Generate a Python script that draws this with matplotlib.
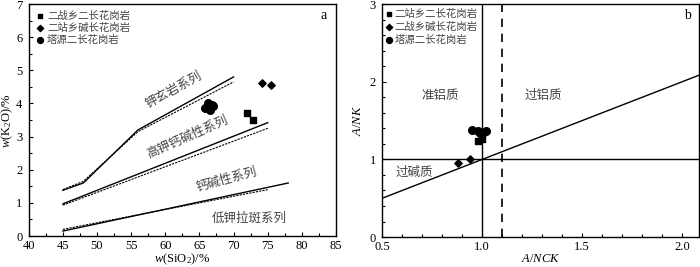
import matplotlib
matplotlib.use("Agg")
import matplotlib.pyplot as plt
from matplotlib.ticker import MultipleLocator

plt.rcParams['font.family'] = ['Liberation Serif', 'Noto Sans CJK SC', 'DejaVu Sans']
plt.rcParams['mathtext.fontset'] = 'custom'
plt.rcParams['mathtext.rm'] = 'Liberation Serif'
plt.rcParams['mathtext.it'] = 'Liberation Serif:italic'

# ---- Panel a data ----
shosh_solid_x = [45, 48, 56, 70]
shosh_solid_y = [1.38, 1.6, 3.2, 4.8]
shosh_dash_x = [45, 48, 56, 70]
shosh_dash_y = [1.4, 1.65, 3.15, 4.65]
highk_solid_x = [45, 75]
highk_solid_y = [0.97, 3.42]
highk_dash_x = [45, 75]
highk_dash_y = [0.93, 3.25]
calc_solid_x = [45, 78]
calc_solid_y = [0.15, 1.6]
calc_dash_x = [45, 75]
calc_dash_y = [0.2, 1.4]

a_sq_x = [72.0, 72.8]
a_sq_y = [3.7, 3.5]
a_dm_x = [74.2, 75.5]
a_dm_y = [4.62, 4.55]
a_ci_x = [65.8, 66.3, 66.6, 67.0, 66.8, 66.2]
a_ci_y = [3.86, 4.0, 3.8, 3.92, 3.95, 3.9]

a_legend = ['二战乡二长花岗岩', '二站乡碱长花岗岩', '塔源二长花岗岩']
a_series_labels = ['钾玄岩系列', '高钾钙碱性系列', '钙碱性系列', '低钾拉斑系列']

# ---- Panel b data ----
b_sq_x = [0.98, 1.0]
b_sq_y = [1.24, 1.26]
b_dm_x = [0.88, 0.94]
b_dm_y = [0.96, 1.0]
b_ci_x = [0.95, 0.98, 1.0, 1.02, 0.99]
b_ci_y = [1.38, 1.36, 1.33, 1.37, 1.34]
b_diag_x = [0.5, 2.1]
b_diag_y = [0.5, 2.1]

b_legend = ['二站乡二长花岗岩', '二战乡碱长花岗岩', '塔源二长花岗岩']
b_regions = ['准铝质', '过铝质', '过碱质']

fig = plt.figure(figsize=(7.0, 2.67), dpi=100)
axa = fig.add_axes([0.041, 0.116, 0.439, 0.869])
axb = fig.add_axes([0.546, 0.112, 0.453, 0.873])

cjk = ['Noto Sans CJK SC', 'DejaVu Sans']
lw = 1.0
tc = '#444444'

# Panel a
axa.plot(shosh_solid_x, shosh_solid_y, color='black', lw=lw)
axa.plot(shosh_dash_x, shosh_dash_y, color='black', lw=0.8, ls=(0, (2, 1)))
axa.plot(highk_solid_x, highk_solid_y, color='black', lw=lw)
axa.plot(highk_dash_x, highk_dash_y, color='black', lw=0.8, ls=(0, (2, 1)))
axa.plot(calc_solid_x, calc_solid_y, color='black', lw=lw)
axa.plot(calc_dash_x, calc_dash_y, color='black', lw=0.8, ls=(0, (2, 1)))

axa.scatter(a_sq_x, a_sq_y, marker='s', s=16, color='black', zorder=3)
axa.scatter(a_dm_x, a_dm_y, marker='D', s=14, color='black', zorder=3)
axa.scatter(a_ci_x, a_ci_y, marker='o', s=30, color='black', zorder=3)

axa.set_xlim(40, 85)
axa.set_ylim(0, 7)
axa.xaxis.set_major_locator(MultipleLocator(5))
axa.xaxis.set_minor_locator(MultipleLocator(2.5))
axa.yaxis.set_major_locator(MultipleLocator(1))
axa.yaxis.set_minor_locator(MultipleLocator(0.5))
axa.set_xlabel(r'$\mathit{w}$(SiO$_2$)/%', fontsize=9, labelpad=0)
axa.set_ylabel(r'$\mathit{w}$(K$_2$O)/%', fontsize=9, labelpad=1)

axa.text(61.2, 4.42, a_series_labels[0], rotation=29, fontsize=9, family=cjk,
         ha='center', va='center', color=tc)
axa.text(63.3, 3.0, a_series_labels[1], rotation=24, fontsize=9, family=cjk,
         ha='center', va='center', color=tc)
axa.text(69.0, 1.7, a_series_labels[2], rotation=15, fontsize=9, family=cjk,
         ha='center', va='center', color=tc)
axa.text(72.3, 0.54, a_series_labels[3], rotation=0, fontsize=9, family=cjk,
         ha='center', va='center', color=tc)
axa.text(0.97, 0.95, 'a', transform=axa.transAxes, fontsize=10, ha='right', va='center')

# legend a
mk = ['s', 'D', 'o']
sz = [10, 10, 18]
for i, lab in enumerate(a_legend):
    yy = 0.95 - i * 0.053
    axa.scatter([0.036], [yy], transform=axa.transAxes, marker=mk[i], s=sz[i],
                color='black', clip_on=False)
    axa.text(0.06, yy, lab, transform=axa.transAxes, fontsize=7.5, family=cjk,
             ha='left', va='center', color=tc)

# Panel b
axb.axvline(1.0, color='black', lw=lw)
axb.axvline(1.1, color='black', lw=1.2, ls=(0, (5, 4)))
axb.axhline(1.0, color='black', lw=lw)
axb.plot(b_diag_x, b_diag_y, color='black', lw=lw)

axb.scatter(b_sq_x, b_sq_y, marker='s', s=16, color='black', zorder=3)
axb.scatter(b_dm_x, b_dm_y, marker='D', s=14, color='black', zorder=3)
axb.scatter(b_ci_x, b_ci_y, marker='o', s=30, color='black', zorder=3)

axb.set_xlim(0.5, 2.085)
axb.set_ylim(0, 3)
axb.xaxis.set_major_locator(MultipleLocator(0.5))
axb.xaxis.set_minor_locator(MultipleLocator(0.1))
axb.yaxis.set_major_locator(MultipleLocator(1))
axb.yaxis.set_minor_locator(MultipleLocator(0.2))
axb.xaxis.set_major_formatter(matplotlib.ticker.FormatStrFormatter('%.1f'))
axb.set_xlabel(r'$\mathit{A/NCK}$', fontsize=9, labelpad=0)
axb.set_ylabel(r'$\mathit{A/NK}$', fontsize=9, labelpad=4)

axb.text(0.79, 1.82, b_regions[0], fontsize=9, family=cjk, ha='center', va='center', color=tc)
axb.text(1.305, 1.82, b_regions[1], fontsize=9, family=cjk, ha='center', va='center', color=tc)
axb.text(0.66, 0.83, b_regions[2], fontsize=9, family=cjk, ha='center', va='center', color=tc)
axb.text(0.975, 0.95, 'b', transform=axb.transAxes, fontsize=10, ha='right', va='center')

for i, lab in enumerate(b_legend):
    yy = 0.955 - i * 0.055
    axb.scatter([0.022], [yy], transform=axb.transAxes, marker=mk[i], s=sz[i],
                color='black', clip_on=False)
    axb.text(0.038, yy, lab, transform=axb.transAxes, fontsize=7.5, family=cjk,
             ha='left', va='center', color=tc)

for ax in (axa, axb):
    ax.tick_params(which='both', direction='in', labelsize=9, width=0.8)
    ax.tick_params(axis='x', pad=2.5)
    ax.tick_params(axis='y', pad=4.5)
    ax.tick_params(which='major', length=3)
    ax.tick_params(which='minor', length=2)
    ax.tick_params(axis='y', which='both', right=False)
    ax.tick_params(axis='x', which='both', top=False)
    for s in ax.spines.values():
        s.set_linewidth(1.0)

fig.savefig('out.png', dpi=100)
